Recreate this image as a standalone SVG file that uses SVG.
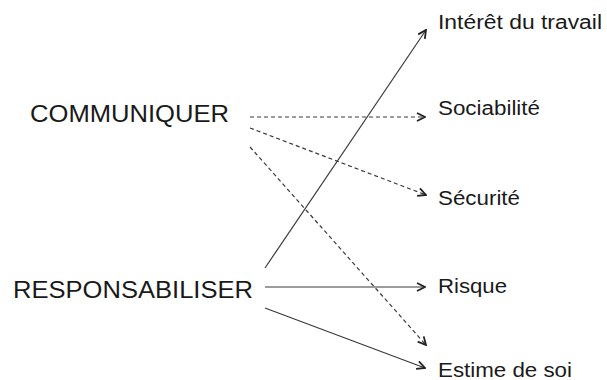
<svg xmlns="http://www.w3.org/2000/svg" width="607" height="380" viewBox="0 0 607 380">
<style>
.lbl{font-family:"Liberation Sans",Arial,sans-serif;fill:#1a1a1a}
.big{font-size:24px}
.sm{font-size:20px}
.ln{stroke:#3a3a3a;stroke-width:1.2;fill:none}
.ds{stroke-dasharray:4 3}
</style>
<defs>
<marker id="ah" viewBox="0 0 10 10" refX="9" refY="5" markerWidth="10" markerHeight="10" markerUnits="userSpaceOnUse" orient="auto">
<path d="M1,1 L9,5 L1,9" fill="none" stroke="#222" stroke-width="1.8"/>
</marker>
</defs>
<rect width="607" height="380" fill="#fff"/>
<g id="communiquer"><text class="lbl big" x="30" y="122" textLength="199" lengthAdjust="spacingAndGlyphs">COMMUNIQUER</text></g>
<g id="responsabiliser"><text class="lbl big" x="13" y="298" textLength="240" lengthAdjust="spacingAndGlyphs">RESPONSABILISER</text></g>
<g id="interet"><text class="lbl sm" x="438" y="29" textLength="164" lengthAdjust="spacingAndGlyphs">Intérêt du travail</text></g>
<g id="sociabilite"><text class="lbl sm" x="438" y="115" textLength="102" lengthAdjust="spacingAndGlyphs">Sociabilité</text></g>
<g id="securite"><text class="lbl sm" x="438" y="205" textLength="82" lengthAdjust="spacingAndGlyphs">Sécurité</text></g>
<g id="risque"><text class="lbl sm" x="438" y="293" textLength="69" lengthAdjust="spacingAndGlyphs">Risque</text></g>
<g id="estime"><text class="lbl sm" x="438" y="377" textLength="134" lengthAdjust="spacingAndGlyphs">Estime de soi</text></g>
<g id="connectors">
<line class="ln" x1="265" y1="268" x2="426" y2="30" marker-end="url(#ah)"/>
<line class="ln ds" x1="250" y1="117" x2="425" y2="117" marker-end="url(#ah)"/>
<line class="ln ds" x1="250" y1="128" x2="426" y2="195" marker-end="url(#ah)"/>
<line class="ln ds" x1="250" y1="147" x2="426" y2="345" marker-end="url(#ah)"/>
<line class="ln" x1="265" y1="287" x2="425" y2="287" marker-end="url(#ah)"/>
<line class="ln" x1="265" y1="308" x2="425" y2="368" marker-end="url(#ah)"/>
</g>
</svg>
